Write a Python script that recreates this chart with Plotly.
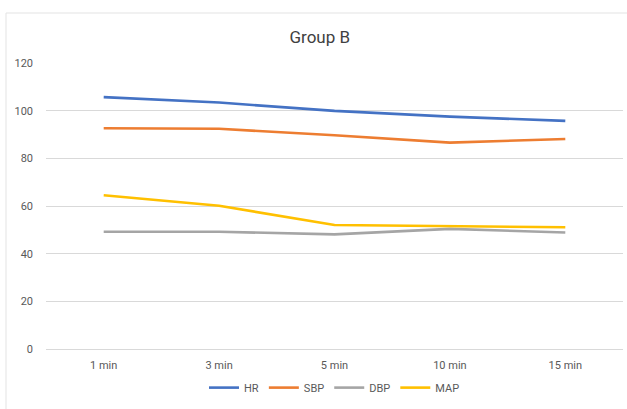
import plotly.graph_objects as go

# Time points and measured values for Group B
times = ["1 min", "3 min", "5 min", "10 min", "15 min"]
hr = [105.7, 103.4, 99.9, 97.5, 95.7]
sbp = [92.6, 92.4, 89.7, 86.6, 88.1]
dbp = [49.2, 49.2, 48.1, 50.4, 48.9]
map_vals = [64.5, 60.1, 52.0, 51.6, 51.1]

series = [
    ("HR", hr, "#4472C4"),
    ("SBP", sbp, "#ED7D31"),
    ("DBP", dbp, "#A5A5A5"),
    ("MAP", map_vals, "#FFC000"),
]

W, H = 627, 409
ML, MR, MT, MB = 46, 4, 63, 60

fig = go.Figure()
for name, vals, color in series:
    fig.add_trace(go.Scatter(
        x=times, y=vals, name=name, mode="lines",
        line=dict(color=color, width=2.6),
    ))

font_family = "Liberation Sans Narrow, Roboto, Arial, sans-serif"

fig.update_layout(
    width=W, height=H,
    margin=dict(l=ML, r=MR, t=MT, b=MB),
    paper_bgcolor="white", plot_bgcolor="white",
    font=dict(family=font_family, size=11, color="#595959"),
    title=dict(text="Group B", x=0.51, xanchor="center", y=1 - 37 / H, yanchor="middle",
               font=dict(family=font_family, size=17, color="#404040")),
    showlegend=True,
    legend=dict(orientation="h", x=0.5, xanchor="center", y=-0.135, yanchor="middle",
                font=dict(size=11, color="#595959"), itemwidth=30, tracegroupgap=0),
    xaxis=dict(type="category", range=[-0.5, len(times) - 0.5],
               showgrid=False, showline=False, ticks="", ticklabelstandoff=8,
               tickfont=dict(size=11, color="#595959"), fixedrange=True),
    yaxis=dict(range=[0, 120], dtick=20, showgrid=True, gridcolor="#D9D9D9", gridwidth=1,
               zeroline=True, zerolinecolor="#D9D9D9", zerolinewidth=1,
               showline=False, ticks="", ticklabelstandoff=12,
               tickfont=dict(size=11, color="#595959"), fixedrange=True),
)

# Light chart-area border (left and top edges visible within the frame)
pw, ph = W - ML - MR, H - MT - MB
bx0 = (6 - ML) / pw
by1 = (H - MB - 13) / ph
fig.add_shape(type="rect", xref="paper", yref="paper",
              x0=bx0, x1=1.2, y0=-0.5, y1=by1,
              line=dict(color="#E3E3E3", width=1), fillcolor="rgba(0,0,0,0)", layer="below")

fig.write_html("out.html")
